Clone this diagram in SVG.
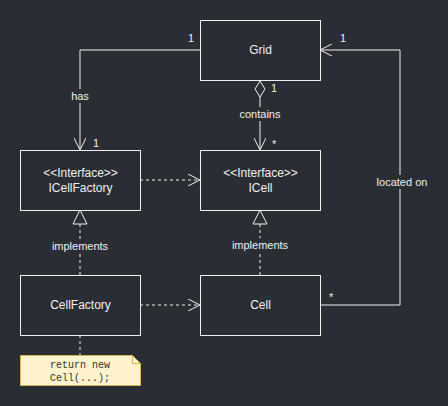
<svg xmlns="http://www.w3.org/2000/svg" width="448" height="406" viewBox="0 0 448 406">
<style>
.box{fill:#2a2d34;stroke:#f0f0f0;stroke-width:1}
.t{font-family:"Liberation Sans",Arial,sans-serif;font-size:12px;fill:#f0f0f0;text-anchor:middle}
.l{font-family:"Liberation Sans",Arial,sans-serif;font-size:11px;fill:#f0f0f0;text-anchor:middle}
.m{font-family:"Liberation Sans",Arial,sans-serif;font-size:11px;fill:#f0f0f0}
.e{fill:none;stroke:#f0f0f0;stroke-width:1}
.d{fill:none;stroke:#f0f0f0;stroke-width:1;stroke-dasharray:3 3}
.lb{fill:#2a2d34}
</style>
<defs>
<marker id="open" viewBox="0 0 12 12" refX="12" refY="6" markerWidth="12" markerHeight="12" markerUnits="userSpaceOnUse" orient="auto">
<path d="M0,0 L12,6 L0,12" fill="none" stroke="#f0f0f0" stroke-width="1"/>
</marker>
<marker id="tri" viewBox="0 0 16 16" refX="15" refY="8" markerWidth="16" markerHeight="16" markerUnits="userSpaceOnUse" orient="auto">
<path d="M1,1 L15,8 L1,15 Z" fill="#2a2d34" stroke="#f0f0f0" stroke-width="1"/>
</marker>
<marker id="dia" viewBox="0 0 20 12" refX="1" refY="6" markerWidth="20" markerHeight="12" markerUnits="userSpaceOnUse" orient="auto">
<path d="M1,6 L9,1 L17,6 L9,11 Z" fill="#2a2d34" stroke="#f0f0f0" stroke-width="1"/>
</marker>
</defs>
<rect width="448" height="406" fill="#2a2d34"/>
<g id="connectors">
<path class="e" d="M200,50 H80 V150" marker-end="url(#open)"/>
<rect class="lb" x="68" y="89" width="24" height="14"/>
<text class="l" x="80" y="100">has</text>
<text class="m" x="188" y="42">1</text>
<text class="m" x="93" y="147">1</text>
<path class="e" d="M260,81 V150" marker-start="url(#dia)" marker-end="url(#open)"/>
<rect class="lb" x="238" y="107" width="44" height="14"/>
<text class="l" x="260" y="118">contains</text>
<text class="m" x="271" y="92">1</text>
<text class="m" x="272" y="148">*</text>
<path class="e" d="M320,305 H400 V50 H320" marker-end="url(#open)"/>
<rect class="lb" x="374" y="175" width="56" height="14"/>
<text class="l" x="402" y="186">located on</text>
<text class="m" x="340" y="42">1</text>
<text class="m" x="329" y="301">*</text>
<path class="d" d="M140,180 H200" marker-end="url(#open)"/>
<path class="d" d="M140,305 H200" marker-end="url(#open)"/>
<path class="d" d="M80,275 V210" marker-end="url(#tri)"/>
<rect class="lb" x="52" y="239" width="56" height="14"/>
<text class="l" x="80" y="250">implements</text>
<path class="d" d="M260,275 V210" marker-end="url(#tri)"/>
<rect class="lb" x="232" y="238" width="56" height="14"/>
<text class="l" x="260" y="249">implements</text>
<path class="d" d="M80,335 V355"/>
</g>
<g id="Grid"><rect class="box" x="200.5" y="20.5" width="120" height="60"/><text class="t" x="260.5" y="54">Grid</text></g>
<g id="ICellFactory"><rect class="box" x="20.5" y="150.5" width="120" height="60"/><text class="t" x="80.5" y="177">&lt;&lt;Interface&gt;&gt;</text><text class="t" x="80.5" y="192">ICellFactory</text></g>
<g id="ICell"><rect class="box" x="200.5" y="150.5" width="120" height="60"/><text class="t" x="260.5" y="177">&lt;&lt;Interface&gt;&gt;</text><text class="t" x="260.5" y="192">ICell</text></g>
<g id="CellFactory"><rect class="box" x="20.5" y="275.5" width="120" height="60"/><text class="t" x="80.5" y="309">CellFactory</text></g>
<g id="Cell"><rect class="box" x="200.5" y="275.5" width="120" height="60"/><text class="t" x="260.5" y="309">Cell</text></g>
<g id="Note">
<path d="M20.5,355.5 H132.5 L140.5,363.5 V385.5 H20.5 Z" fill="#fff2cc" stroke="#d6b656"/>
<path d="M132.5,355.5 V363.5 H140.5" fill="none" stroke="#d6b656"/>
<text font-family="'Liberation Mono','Courier New',monospace" font-size="10" fill="#333333" x="50" y="368">return new</text>
<text font-family="'Liberation Mono','Courier New',monospace" font-size="10" fill="#333333" x="50" y="381">Cell(...);</text>
</g>
</svg>
